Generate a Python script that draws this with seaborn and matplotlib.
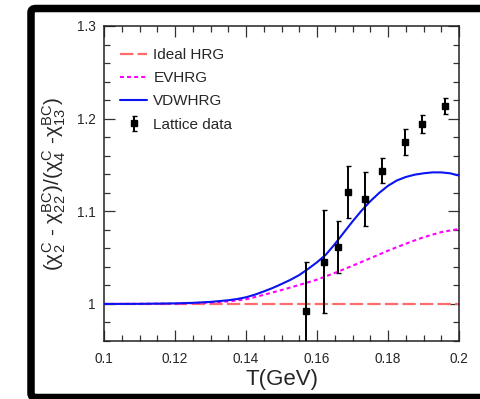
import numpy as np
import pandas as pd
import seaborn as sns
import matplotlib
matplotlib.use("Agg")
import matplotlib.pyplot as plt
from matplotlib.patches import FancyBboxPatch
from matplotlib.ticker import FixedLocator, FixedFormatter, MultipleLocator

# Model curves: temperature grid (GeV) and ratio values
t_ideal = [0.100, 0.200]
r_ideal = [1.0, 1.0]

t_ev = [0.100, 0.110, 0.120, 0.125, 0.130, 0.135, 0.140, 0.145, 0.150, 0.155,
        0.160, 0.165, 0.170, 0.175, 0.180, 0.185, 0.190, 0.195, 0.200]
r_ev = [1.0000, 1.0001, 1.0004, 1.0008, 1.0015, 1.0027, 1.0050, 1.0098, 1.0150, 1.0205,
        1.0262, 1.0335, 1.0412, 1.0493, 1.0575, 1.0650, 1.0720, 1.0775, 1.0810]

t_vdw = [0.100, 0.110, 0.120, 0.125, 0.130, 0.135, 0.1375, 0.140, 0.1425, 0.145,
         0.1475, 0.150, 0.1525, 0.155, 0.1575, 0.160, 0.1625, 0.165, 0.1675, 0.170,
         0.1725, 0.175, 0.1775, 0.180, 0.1825, 0.185, 0.1875, 0.190, 0.1925, 0.195,
         0.1975, 0.200]
r_vdw = [1.0000, 1.0001, 1.0006, 1.0012, 1.0022, 1.0040, 1.0053, 1.0072, 1.0100, 1.0135,
         1.0172, 1.0215, 1.0260, 1.0312, 1.0378, 1.0450, 1.0532, 1.0645, 1.0768, 1.0890,
         1.1005, 1.1108, 1.1198, 1.1275, 1.1333, 1.1370, 1.1395, 1.1410, 1.1420, 1.1420,
         1.1410, 1.1385]

# Lattice QCD points with uncertainties
t_lat = [0.1568, 0.1621, 0.1658, 0.1686, 0.1735, 0.1782, 0.1848, 0.1897, 0.1960]
r_lat = [0.992, 1.0458, 1.0617, 1.1213, 1.1131, 1.1440, 1.1746, 1.1943, 1.2140]
e_lat = [0.053, 0.056, 0.028, 0.028, 0.029, 0.013, 0.014, 0.010, 0.0085]

labels = ["Ideal HRG", "EVHRG", "VDWHRG", "Lattice data"]
x_ticks = [0.10, 0.12, 0.14, 0.16, 0.18, 0.20]
x_ticklabels = ["0.1", "0.12", "0.14", "0.16", "0.18", "0.2"]
y_ticks = [1.0, 1.1, 1.2, 1.3]
y_ticklabels = ["1", "1.1", "1.2", "1.3"]

sns.set_style("ticks")
plt.rcParams["font.family"] = ["Liberation Sans", "DejaVu Sans"]
plt.rcParams["mathtext.fontset"] = "custom"
plt.rcParams["mathtext.rm"] = "Liberation Sans"
plt.rcParams["mathtext.it"] = "Liberation Sans:italic"
plt.rcParams["mathtext.default"] = "regular"

fig = plt.figure(figsize=(4.8, 3.99), dpi=100)
ax = fig.add_axes([104 / 480, 1 - 341 / 399, 355 / 480, 315 / 399])

df_ideal = pd.DataFrame({"T": t_ideal, "R": r_ideal})
df_ev = pd.DataFrame({"T": t_ev, "R": r_ev})
df_vdw = pd.DataFrame({"T": t_vdw, "R": r_vdw})

sns.lineplot(data=df_ideal, x="T", y="R", ax=ax, color="#ff6b6b", linewidth=1.6,
             linestyle=(0, (6.0, 1.9)), label=labels[0], zorder=2)
sns.lineplot(data=df_ev, x="T", y="R", ax=ax, color="#ff00ff", linewidth=1.5,
             linestyle=(0, (1.9, 1.5)), label=labels[1], zorder=3)
sns.lineplot(data=df_vdw, x="T", y="R", ax=ax, color="#0a14f0", linewidth=1.5,
             label=labels[2], zorder=4)
ax.errorbar(t_lat, r_lat, yerr=e_lat, fmt="s", color="black", markersize=5,
            elinewidth=1.4, capsize=1.8, capthick=1.0, label=labels[3], zorder=5)

ax.set_xlim(0.1, 0.2)
ax.set_ylim(0.96, 1.3)
ax.xaxis.set_major_locator(FixedLocator(x_ticks))
ax.xaxis.set_major_formatter(FixedFormatter(x_ticklabels))
ax.xaxis.set_minor_locator(MultipleLocator(0.005))
ax.yaxis.set_major_locator(FixedLocator(y_ticks))
ax.yaxis.set_major_formatter(FixedFormatter(y_ticklabels))
ax.yaxis.set_minor_locator(MultipleLocator(0.02))
ax.tick_params(which="both", direction="in", top=True, right=True, width=0.9,
               color="#333333", labelsize=9.8)
ax.tick_params(which="major", length=8)
ax.tick_params(which="minor", length=4)
ax.tick_params(axis="x", pad=8)
ax.tick_params(axis="y", pad=6)
for s in ax.spines.values():
    s.set_linewidth(1.1)
    s.set_color("#222222")

ax.set_xlabel("T(GeV)", fontsize=16, labelpad=2)
ax.set_ylabel(r"$(\chi_{2}^{C}$ - $\chi_{22}^{BC})/(\chi_{4}^{C}$ -$\chi_{13}^{BC})$",
              fontsize=15, labelpad=6)

handles, labs = ax.get_legend_handles_labels()
order = [labs.index(l) for l in labels]
ax.legend([handles[i] for i in order], [labs[i] for i in order],
          loc="upper left", bbox_to_anchor=(0.045, 0.93), frameon=False,
          fontsize=11, handlelength=1.78, handletextpad=0.4, labelspacing=0.6,
          borderpad=0, borderaxespad=0)

# Black canvas frame along the left, top and bottom edges
frame = FancyBboxPatch((31 / 480, 1 - 397.5 / 399), 1.2, (397.5 - 8.5) / 399,
                       boxstyle="round,pad=0,rounding_size=0.01",
                       transform=fig.transFigure, fill=False,
                       edgecolor="black", linewidth=5.4, zorder=10)
fig.add_artist(frame)

fig.savefig("out.png", dpi=100)
